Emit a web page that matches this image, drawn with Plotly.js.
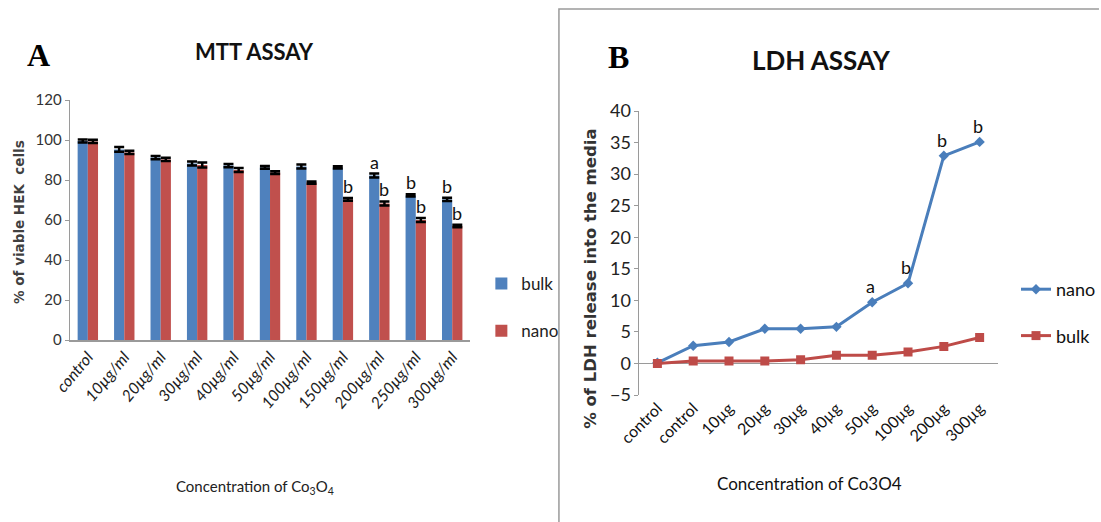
<!DOCTYPE html>
<html>
<head>
<meta charset="utf-8">
<script src="https://cdn.plot.ly/plotly-3.0.1.min.js"></script>
<style>html,body{margin:0;padding:0;background:#fff;}#chart{width:1101px;height:522px;}</style>
</head>
<body>
<div id="chart"></div>
<script>
// ---- Panel A: MTT assay ----
const mttCategories = ["control","10µg/ml","20µg/ml","30µg/ml","40µg/ml","50µg/ml","100µg/ml","150µg/ml","200µg/ml","250µg/ml","300µg/ml"];
const mttBulk = [99.5, 95.3, 91.2, 88.3, 87.2, 86.3, 86.7, 86.3, 82.2, 72.3, 70.3];
const mttNano = [99.3, 93.8, 90.3, 87.5, 85.0, 83.7, 78.7, 70.3, 68.3, 60.0, 57.0];
const mttBulkErr = [0.8, 1.2, 0.8, 1.0, 0.8, 0.7, 1.0, 0.6, 1.0, 0.6, 0.8];
const mttNanoErr = [0.8, 0.8, 0.8, 1.2, 1.0, 0.7, 0.6, 0.7, 1.0, 1.0, 0.6];
const mttBulkSig = ["", "", "", "", "", "", "", "", "a", "b", "b"];
const mttNanoSig = ["", "", "", "", "", "", "", "b", "b", "b", "b"];

// ---- Panel B: LDH assay ----
const ldhTickLabels = ["control","control","10µg","20µg","30µg","40µg","50µg","100µg","200µg","300µg"];
const ldhNano = [0.1, 2.8, 3.4, 5.5, 5.5, 5.8, 9.7, 12.7, 32.9, 35.1];
const ldhBulk = [0.0, 0.4, 0.4, 0.4, 0.6, 1.3, 1.3, 1.8, 2.7, 4.1];
const ldhNanoSig = ["", "", "", "", "", "", "a", "b", "b", "b"];

const ldhX = ldhTickLabels.map((_, i) => i);
const narrow = "Lato, Liberation Sans Narrow, sans-serif";
const W = 1101, H = 522;
const px = v => v / W;
const py = v => 1 - v / H;

const traces = [
  {type: "bar", name: "bulk", x: mttCategories, y: mttBulk, xaxis: "x", yaxis: "y",
   marker: {color: "#4F81BD"}, legend: "legend", legendgroup: "g1",
   error_y: {type: "data", array: mttBulkErr, visible: true, color: "#000", thickness: 2.5, width: 5}},
  {type: "bar", name: "nano", x: mttCategories, y: mttNano, xaxis: "x", yaxis: "y",
   marker: {color: "#C0504D"}, legend: "legend", legendgroup: "g2",
   error_y: {type: "data", array: mttNanoErr, visible: true, color: "#000", thickness: 2.5, width: 5}},
  {type: "scatter", mode: "lines+markers", name: "nano", x: ldhX, y: ldhNano, xaxis: "x2", yaxis: "y2",
   line: {color: "#4A7EBB", width: 3}, marker: {symbol: "diamond", size: 8, color: "#4A7EBB"},
   legend: "legend2", legendgroup: "g3"},
  {type: "scatter", mode: "lines+markers", name: "bulk", x: ldhX, y: ldhBulk, xaxis: "x2", yaxis: "y2",
   line: {color: "#BE4B48", width: 3}, marker: {symbol: "square", size: 9, color: "#BE4B48"},
   legend: "legend2", legendgroup: "g4"}
];

const annotations = [];
const off = 0.14;
const sigFont = {family: narrow, size: 18, color: "#111"};
mttBulkSig.forEach((s, i) => { if (s) annotations.push({xref: "x", yref: "y", x: i - off, y: mttBulk[i] + mttBulkErr[i],
  text: s, showarrow: false, xanchor: "center", yanchor: "bottom", yshift: -1, font: sigFont}); });
mttNanoSig.forEach((s, i) => { if (s) annotations.push({xref: "x", yref: "y", x: i + off, y: mttNano[i] + mttNanoErr[i],
  text: s, showarrow: false, xanchor: "center", yanchor: "bottom", yshift: -1, font: sigFont}); });
ldhNanoSig.forEach((s, i) => { if (s) annotations.push({xref: "x2", yref: "y2", x: i, y: ldhNano[i],
  text: s, showarrow: false, xanchor: "center", yanchor: "bottom", yshift: 3, xshift: -2, font: sigFont}); });

const pa = (x, y, text, font, extra) => Object.assign({xref: "paper", yref: "paper", x: px(x), y: py(y), text: text,
  showarrow: false, xanchor: "center", yanchor: "middle", font: font}, extra || {});

annotations.push(
  pa(39, 55, "<b>A</b>", {family: "Liberation Serif, Times New Roman, serif", size: 32, color: "#000"}),
  pa(622, 57, "<b>B</b>", {family: "Liberation Serif, Times New Roman, serif", size: 32, color: "#000"}),
  pa(256, 52, "<b>MTT ASSAY</b>", {family: narrow, size: 22, color: "#111"}),
  pa(826, 60, "<b>LDH ASSAY</b>", {family: narrow, size: 26, color: "#111"}),
  pa(19, 222, "<b>% of viable HEK  cells</b>", {family: "DejaVu Sans, Verdana, sans-serif", size: 13.5, color: "#404040"}, {textangle: -90}),
  pa(593, 279, "<b>% of LDH release into the media</b>", {family: "DejaVu Sans, Verdana, sans-serif", size: 16.5, color: "#333"}, {textangle: -90}),
  pa(256, 487, "Concentration of Co<sub>3</sub>O<sub>4</sub>", {family: narrow, size: 15, color: "#222"}),
  pa(814, 483, "Concentration of Co3O4", {family: narrow, size: 17, color: "#111"})
);

const layout = {
  width: W, height: H,
  margin: {l: 0, r: 0, t: 0, b: 0},
  paper_bgcolor: "#fff", plot_bgcolor: "rgba(0,0,0,0)",
  barmode: "group", bargap: 0.44, bargroupgap: 0,
  showlegend: true,
  xaxis: {domain: [px(70), px(473)], anchor: "y", type: "category", showgrid: false, zeroline: false,
    showline: true, linecolor: "#9a9a9a", linewidth: 1.5, ticks: "", tickangle: -50,
    tickfont: {family: narrow, size: 16, color: "#222", style: "italic"}},
  yaxis: {domain: [py(340), py(100)], anchor: "x", range: [0, 120], dtick: 20, showgrid: false, zeroline: false,
    showline: true, linecolor: "#9a9a9a", linewidth: 1, ticks: "outside", ticklen: 4, tickcolor: "#9a9a9a",
    tickfont: {family: narrow, size: 15, color: "#333"}},
  xaxis2: {domain: [px(643), px(1003)], anchor: "y2", range: [-0.5, 9.5], tickvals: ldhX, ticktext: ldhTickLabels,
    showgrid: false, zeroline: false, showline: false, ticks: "", tickangle: -45,
    tickfont: {family: narrow, size: 16, color: "#111"}},
  yaxis2: {domain: [py(395), py(111)], anchor: "x2", range: [-5, 40], dtick: 5, showgrid: false,
    zeroline: true, zerolinecolor: "#9a9a9a", zerolinewidth: 1.5,
    showline: true, linecolor: "#9a9a9a", linewidth: 1, ticks: "outside", ticklen: 4, tickcolor: "#9a9a9a",
    tickfont: {family: narrow, size: 18, color: "#222"}},
  legend: {x: px(484), y: py(266), xanchor: "left", yanchor: "top", bgcolor: "rgba(0,0,0,0)",
    font: {family: narrow, size: 17, color: "#222"}, tracegroupgap: 22, itemwidth: 30},
  legend2: {x: px(1022), y: py(271), xanchor: "left", yanchor: "top", bgcolor: "rgba(0,0,0,0)",
    font: {family: narrow, size: 18, color: "#111"}, tracegroupgap: 20, itemwidth: 30},
  shapes: [
    {type: "path", xref: "paper", yref: "paper", path: `M ${px(562)} ${py(530)} L ${px(562)} ${py(9)} L ${px(1105)} ${py(9)}`,
     line: {color: "#9a9a9a", width: 1.5}}
  ],
  annotations: annotations
};

Plotly.newPlot("chart", traces, layout, {staticPlot: true, displayModeBar: false});
</script>
</body>
</html>
